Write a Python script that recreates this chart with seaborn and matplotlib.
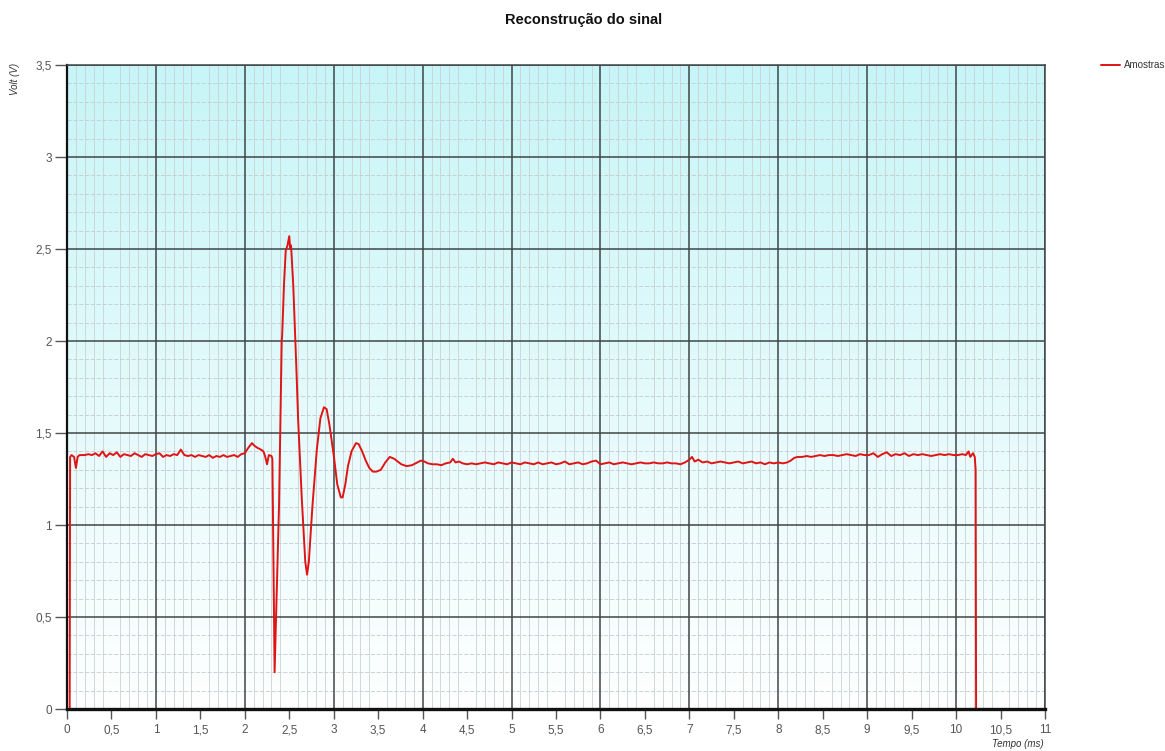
import numpy as np
import pandas as pd
import matplotlib
matplotlib.use("Agg")
import matplotlib.pyplot as plt
import seaborn as sns
from matplotlib.ticker import MultipleLocator, FixedLocator

# ---- data (time in ms, voltage in V) ----
t_start = [0.00, 0.03, 0.035, 0.05, 0.08, 0.10, 0.12, 0.14]
v_start = [0.00, 0.00, 1.37, 1.38, 1.37, 1.31, 1.37, 1.38]

t_flat1 = [0.16, 0.20, 0.24, 0.28, 0.32, 0.36, 0.40, 0.44, 0.48, 0.52, 0.56, 0.60,
           0.64, 0.68, 0.72, 0.76, 0.80, 0.84, 0.88, 0.92, 0.96, 1.00, 1.04, 1.08,
           1.12, 1.16, 1.20, 1.24, 1.28, 1.32, 1.36, 1.40, 1.44, 1.48, 1.52, 1.56,
           1.60, 1.64, 1.68, 1.72, 1.76, 1.80, 1.84, 1.88, 1.92, 1.96, 2.00]
v_flat1 = [1.38, 1.38, 1.385, 1.38, 1.39, 1.375, 1.40, 1.37, 1.39, 1.38, 1.395, 1.37,
           1.385, 1.38, 1.375, 1.39, 1.38, 1.37, 1.385, 1.38, 1.375, 1.385, 1.39, 1.37,
           1.38, 1.375, 1.385, 1.38, 1.41, 1.38, 1.375, 1.38, 1.37, 1.38, 1.375, 1.37,
           1.38, 1.365, 1.375, 1.37, 1.38, 1.37, 1.375, 1.38, 1.37, 1.385, 1.39]

t_trans = [2.04, 2.08, 2.11, 2.14, 2.18, 2.21, 2.23, 2.25, 2.27, 2.30, 2.31, 2.335,
           2.36, 2.38, 2.385, 2.40, 2.415, 2.42, 2.44, 2.46, 2.48, 2.50, 2.51, 2.52,
           2.545, 2.58, 2.60, 2.64, 2.68, 2.70, 2.72, 2.76, 2.81, 2.85, 2.89, 2.92,
           2.95, 3.00, 3.04, 3.08, 3.10, 3.13, 3.16, 3.20, 3.25, 3.28, 3.32, 3.36,
           3.40, 3.44, 3.48, 3.53, 3.58, 3.63, 3.68, 3.72, 3.76, 3.82, 3.88, 3.94,
           3.98, 4.02]
v_trans = [1.42, 1.445, 1.43, 1.42, 1.41, 1.40, 1.37, 1.33, 1.38, 1.375, 1.36, 0.20,
           0.65, 1.02, 1.11, 1.55, 2.00, 2.03, 2.30, 2.49, 2.52, 2.57, 2.50, 2.52,
           2.30, 1.85, 1.57, 1.15, 0.80, 0.73, 0.80, 1.10, 1.41, 1.58, 1.64, 1.63,
           1.55, 1.38, 1.22, 1.15, 1.15, 1.22, 1.32, 1.40, 1.445, 1.44, 1.40, 1.35,
           1.31, 1.29, 1.29, 1.30, 1.34, 1.37, 1.36, 1.345, 1.33, 1.32, 1.325, 1.34,
           1.35, 1.345]

t_flat2 = [4.06, 4.11, 4.16, 4.21, 4.26, 4.31, 4.34, 4.37, 4.41, 4.45, 4.50, 4.55,
           4.60, 4.65, 4.70, 4.75, 4.80, 4.85, 4.90, 4.95, 5.00, 5.05, 5.10, 5.15,
           5.20, 5.25, 5.30, 5.35, 5.40, 5.45, 5.50, 5.55, 5.60, 5.65, 5.70, 5.75,
           5.80, 5.85, 5.90, 5.95, 6.00, 6.05, 6.10, 6.15, 6.20, 6.25, 6.30, 6.35,
           6.40, 6.45, 6.50, 6.55, 6.60, 6.65, 6.70, 6.75, 6.80, 6.85, 6.90, 6.95,
           7.00, 7.03, 7.06, 7.10, 7.15, 7.20, 7.25, 7.30, 7.35, 7.40, 7.45, 7.50,
           7.55, 7.60, 7.65, 7.70, 7.75, 7.80, 7.85, 7.90, 7.95, 8.00, 8.05, 8.10]
v_flat2 = [1.335, 1.33, 1.33, 1.325, 1.335, 1.34, 1.36, 1.34, 1.345, 1.335, 1.33, 1.335,
           1.33, 1.335, 1.34, 1.335, 1.33, 1.34, 1.335, 1.33, 1.34, 1.335, 1.33, 1.34,
           1.335, 1.33, 1.34, 1.33, 1.335, 1.34, 1.33, 1.335, 1.345, 1.33, 1.335, 1.34,
           1.33, 1.335, 1.345, 1.35, 1.33, 1.335, 1.34, 1.33, 1.335, 1.34, 1.335, 1.33,
           1.335, 1.34, 1.335, 1.335, 1.34, 1.335, 1.335, 1.34, 1.335, 1.335, 1.33, 1.34,
           1.355, 1.37, 1.345, 1.355, 1.34, 1.345, 1.335, 1.34, 1.345, 1.34, 1.335, 1.34,
           1.345, 1.335, 1.34, 1.345, 1.335, 1.34, 1.33, 1.34, 1.335, 1.34, 1.335, 1.34]

t_flat3 = [8.14, 8.18, 8.22, 8.27, 8.32, 8.37, 8.42, 8.47, 8.52, 8.57, 8.62, 8.67,
           8.72, 8.77, 8.82, 8.87, 8.92, 8.97, 9.02, 9.07, 9.12, 9.17, 9.22, 9.27,
           9.32, 9.37, 9.42, 9.47, 9.52, 9.57, 9.62, 9.67, 9.72, 9.77, 9.82, 9.87,
           9.92, 9.97, 10.02, 10.07, 10.11, 10.14, 10.16, 10.19, 10.21, 10.22, 10.225]
v_flat3 = [1.35, 1.365, 1.37, 1.37, 1.375, 1.37, 1.375, 1.38, 1.375, 1.38, 1.38, 1.375,
           1.38, 1.385, 1.38, 1.375, 1.385, 1.38, 1.38, 1.39, 1.37, 1.385, 1.395, 1.375,
           1.385, 1.38, 1.39, 1.375, 1.385, 1.38, 1.385, 1.38, 1.375, 1.38, 1.385, 1.38,
           1.385, 1.38, 1.38, 1.385, 1.38, 1.40, 1.37, 1.39, 1.37, 1.30, 0.00]

x_ticks = [0, 0.5, 1, 1.5, 2, 2.5, 3, 3.5, 4, 4.5, 5, 5.5, 6, 6.5, 7, 7.5, 8, 8.5,
           9, 9.5, 10, 10.5, 11]
x_labels = ["0", "0,5", "1", "1,5", "2", "2,5", "3", "3,5", "4", "4,5", "5", "5,5",
            "6", "6,5", "7", "7,5", "8", "8,5", "9", "9,5", "10", "10,5", "11"]
y_ticks = [0, 0.5, 1, 1.5, 2, 2.5, 3, 3.5]
y_labels = ["0", "0,5", "1", "1,5", "2", "2,5", "3", "3,5"]

series_name = "Amostras"
title = "Reconstrução do sinal"
x_title = "Tempo (ms)"
y_title = "Volt (V)"

df = pd.DataFrame({
    "t": t_start + t_flat1 + t_trans + t_flat2 + t_flat3,
    "v": v_start + v_flat1 + v_trans + v_flat2 + v_flat3,
})

# ---- figure ----
sns.set_style("white")
plt.rcParams["font.family"] = ["Liberation Sans", "DejaVu Sans"]

fig = plt.figure(figsize=(11.65, 7.51), dpi=100)
ax = fig.add_axes([67 / 1165, 1 - 709 / 751, (1045 - 67) / 1165, (709 - 65) / 751])

ax.set_xlim(0, 11)
ax.set_ylim(0, 3.5)

# background gradient (cyan at top to white at bottom)
grad = np.linspace(0, 1, 256).reshape(-1, 1)
top = np.array([0.78, 0.96, 0.97])
bot = np.array([1.0, 1.0, 1.0])
img = bot[None, None, :] * (1 - grad[:, :, None]) + top[None, None, :] * grad[:, :, None]
ax.imshow(img, extent=[0, 11, 0, 3.5], origin="lower", aspect="auto", zorder=0)

# minor grid
ax.xaxis.set_minor_locator(MultipleLocator(0.1))
ax.yaxis.set_minor_locator(MultipleLocator(0.1))
ax.grid(which="minor", axis="x", color="#c9d2d4", linewidth=0.6, linestyle="-", zorder=1)
ax.grid(which="minor", axis="y", color="#c3cccf", linewidth=0.6, linestyle=(0, (5, 2)), zorder=1)
ax.tick_params(which="minor", length=0)

# major grid (dark) at each ms and each 0.5 V
for xv in range(0, 12):
    ax.axvline(xv, color="#404546", linewidth=1.1, zorder=2)
for yv in y_ticks:
    ax.axhline(yv, color="#404546", linewidth=1.1, zorder=2)

sns.lineplot(data=df, x="t", y="v", sort=False, estimator=None, color="#e01414",
             linewidth=1.4, label=series_name, ax=ax, zorder=5)

ax.xaxis.set_major_locator(FixedLocator(x_ticks))
ax.set_xticklabels(x_labels)
ax.yaxis.set_major_locator(FixedLocator(y_ticks))
ax.set_yticklabels(y_labels)
ax.tick_params(axis="x", which="major", direction="out", length=7, width=1.0,
               color="#555555", labelsize=8.5, labelcolor="#555555", pad=4, bottom=True)
ax.tick_params(axis="y", which="major", direction="out", length=9, width=1.0,
               color="#555555", labelsize=8.5, labelcolor="#555555", pad=2, left=True)
ax.set_xlabel("")
ax.set_ylabel("")

for side in ["top", "right"]:
    ax.spines[side].set_color("#404546")
    ax.spines[side].set_linewidth(1.1)
ax.spines["left"].set_color("#111111")
ax.spines["left"].set_linewidth(1.6)
ax.spines["bottom"].set_color("#111111")
ax.spines["bottom"].set_linewidth(2.4)
for s in ax.spines.values():
    s.set_zorder(6)

fig.suptitle(title, x=584 / 1165, y=1 - 20 / 751, va="center", fontsize=10.5,
             fontweight="bold", color="#111111")
fig.text(15 / 1165, 1 - 79 / 751, y_title, rotation=90, ha="center", va="center",
         fontsize=7, fontstyle="italic", color="#333333")
fig.text(1018 / 1165, 1 - 744 / 751, x_title, ha="center", va="center",
         fontsize=7, fontstyle="italic", color="#333333")

leg = ax.legend(loc="center left", bbox_to_anchor=(1101 / 1165, 1 - 65 / 751),
                bbox_transform=fig.transFigure, frameon=False, fontsize=7,
                handlelength=2.0, handletextpad=0.4, borderpad=0, borderaxespad=0)
for txt in leg.get_texts():
    txt.set_color("#333333")

fig.savefig("out.png", dpi=100)
